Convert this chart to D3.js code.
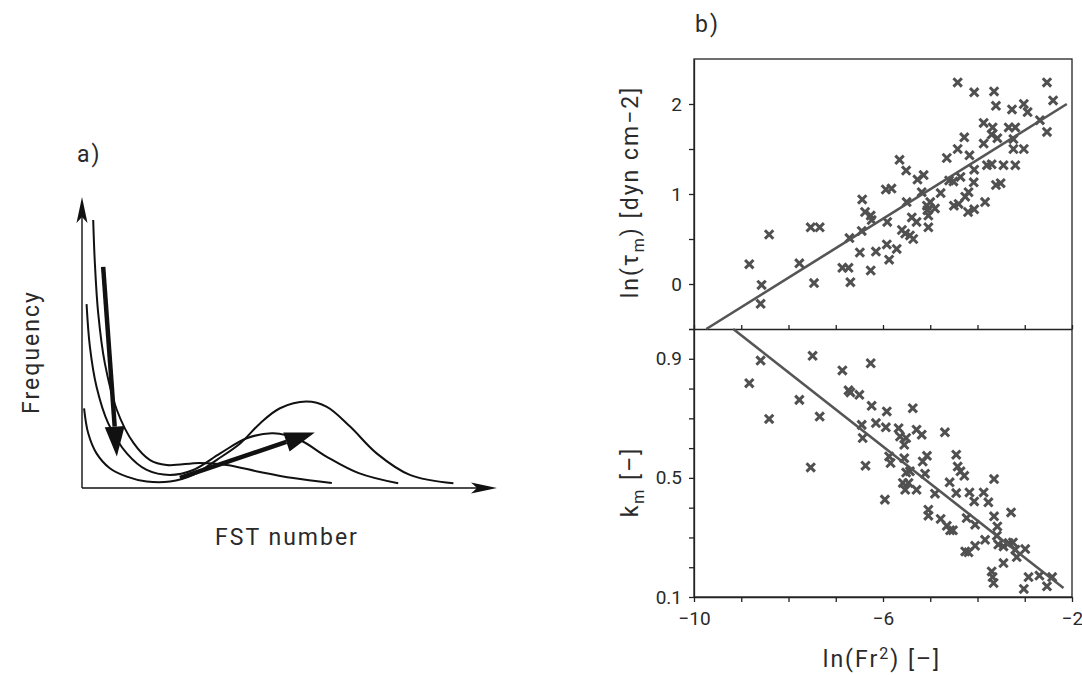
<!DOCTYPE html>
<meta charset="utf-8">
<head>
	<title>FST number and shear</title>
	<script src="https://cdnjs.cloudflare.com/ajax/libs/d3/7.8.5/d3.min.js"></script>
</head>
<style type="text/css">
	body { margin: 0; background: #fff; }
	text { font-family: Roboto, "DejaVu Sans", sans-serif; font-weight: 400; fill: #2a2a2a; }
	.lab { font-size: 23px; letter-spacing: 2px; }
	.tick text { font-size: 19px; }
	.axis path, .axis line { stroke: #222; stroke-width: 1.3; }
</style>
<body>
<script>
// ---- panel a: sketch curves (x, y in % of the axis lengths) ----
var curveA = [[2.7,92.1],[3.1,77.3],[3.9,60.1],[5.5,42.9],[8.4,26.8],[12.4,15.5],[16.4,9.6],[20.4,7.9],
	[28.4,8.6],[34.9,7.9],[42.9,5.5],[50.9,3.4],[60.2,1.7]];
var curveB = [[1.1,63.2],[1.9,48.6],[3.5,34.8],[6.3,22.3],[10.8,11.9],[15.6,6.2],[21.2,4.5],[26.8,6.2],
	[33.3,11.9],[39.7,17.1],[46.1,18.8],[52.5,16.5],[58.9,10.8],[66.7,5.1],[76.2,1.6]];
var curveC = [[0.5,27.4],[1.5,18.8],[3.5,11.9],[6.7,6.8],[10.8,3.9],[15.6,2.2],[21.2,2.2],[26.8,4.5],
	[32.4,9.6],[38.1,15.3],[42.9,22.2],[47.7,27.4],[54.1,29.7],[59.0,27.9],[64.6,21.1],[71.0,11.9],
	[79.0,4.5],[89.5,1.6]];
var arrowDown = [[5.1,76.0],[8.4,10.8]];
var arrowUp = [[23.6,3.5],[56.1,19.1]];

// ---- panel b: ln(tau_m) vs ln(Fr^2) ----
var tauX = [-8.83,-8.57,-8.59,-8.41,-7.77,-7.53,-7.34,-7.46,-6.71,-6.86,-6.73,-6.69,-6.44,-6.38,-6.26,-6.24,
	-6.45,-6.49,-6.26,-6.15,-5.94,-5.82,-5.91,-5.92,-5.87,-5.71,-5.65,-5.51,-5.50,-5.60,-5.53,-5.43,
	-5.36,-5.39,-5.29,-5.27,-5.14,-5.18,-5.07,-5.06,-5.00,-5.04,-5.04,-4.90,-4.78,-4.65,-4.60,-4.51,
	-4.42,-4.42,-4.36,-4.50,-4.40,-4.28,-4.26,-4.19,-4.17,-4.08,-4.07,-4.20,-4.07,-4.07,-3.87,-3.87,
	-3.84,-3.80,-3.70,-3.65,-3.61,-3.68,-3.70,-3.58,-3.61,-3.51,-3.45,-3.27,-3.34,-3.20,-3.24,-3.24,
	-3.20,-3.02,-2.94,-3.02,-2.68,-2.53,-2.40,-2.53];
var tauY = [0.22,-0.01,-0.22,0.55,0.23,0.63,0.63,0.01,0.51,0.18,0.18,0.02,0.94,0.80,0.76,0.71,
	0.59,0.35,0.15,0.36,1.05,1.06,0.69,0.44,0.27,0.39,1.38,1.26,0.91,0.60,0.56,0.54,
	0.50,0.74,0.69,1.16,1.21,1.02,0.87,0.82,0.91,0.76,0.63,0.84,1.01,1.40,1.15,1.14,
	2.24,1.50,1.19,0.87,0.89,1.63,0.97,1.02,1.43,1.13,1.27,0.80,0.83,2.13,1.79,1.56,
	0.91,1.32,1.33,2.14,1.98,1.74,1.66,1.62,1.10,1.12,1.32,1.94,1.74,1.74,1.61,1.50,
	1.32,2.00,1.91,1.50,1.82,2.24,2.04,1.69];
var tauFit = [[-9.74,-0.5],[-2.11,2.0]];

// ---- panel b: k_m vs ln(Fr^2) ----
var kX = [-8.83,-8.59,-8.41,-7.77,-7.49,-7.34,-7.53,-6.86,-6.73,-6.69,-6.50,-6.26,-6.24,-6.15,-6.45,-6.43,
	-6.37,-5.92,-5.94,-5.87,-5.84,-5.96,-5.67,-5.64,-5.55,-5.51,-5.55,-5.51,-5.43,-5.37,-5.29,-5.18,
	-5.58,-5.53,-5.46,-5.29,-5.16,-5.07,-5.11,-5.04,-5.04,-4.90,-4.78,-4.69,-4.65,-4.58,-4.59,-4.45,
	-4.42,-4.36,-4.28,-4.45,-4.52,-4.26,-4.19,-4.23,-4.17,-4.07,-4.05,-4.05,-3.87,-3.84,-3.77,-3.65,
	-3.65,-3.58,-3.59,-3.56,-3.70,-3.68,-3.66,-3.45,-3.45,-3.29,-3.25,-3.20,-3.17,-2.99,-3.02,-2.92,
	-2.69,-2.53,-2.42,-3.34];
var kY = [0.818,0.894,0.698,0.762,0.910,0.706,0.535,0.861,0.794,0.787,0.779,0.885,0.742,0.684,0.678,0.634,
	0.541,0.723,0.670,0.572,0.550,0.427,0.667,0.639,0.611,0.634,0.566,0.518,0.522,0.734,0.662,0.645,
	0.483,0.460,0.483,0.460,0.555,0.574,0.514,0.393,0.373,0.447,0.362,0.653,0.339,0.324,0.485,0.578,
	0.538,0.522,0.507,0.449,0.324,0.253,0.250,0.365,0.451,0.421,0.343,0.272,0.451,0.292,0.418,0.496,
	0.371,0.337,0.306,0.276,0.186,0.167,0.147,0.270,0.214,0.384,0.283,0.259,0.234,0.261,0.127,0.167,
	0.172,0.136,0.167,0.281];
var kFit = [[-9.17,1.0],[-2.18,0.13]];

var xTicks = [-10,-9,-8,-7,-6,-5,-4,-3,-2];
var xTickLabels = [-10,-6,-2];
var tauTicks = [-0.5,0,0.5,1,1.5,2];
var tauTickLabels = [0,1,2];
var kTicks = [0.1,0.2,0.3,0.4,0.5,0.6,0.7,0.8,0.9,1.0];
var kTickLabels = [0.1,0.5,0.9];

var svg = d3.select("body").append("svg")
	.attr("width", 1082)
	.attr("height", 675);

svg.append("rect").attr("width", 1082).attr("height", 675).attr("fill", "#fff");

// ================= panel a =================
var xA = d3.scaleLinear().domain([0, 100]).range([82, 497]);
var yA = d3.scaleLinear().domain([0, 100]).range([488, 197]);

function arrowHead(g, p0, p1, len, half, notch, fill) {
	// triangle head at p1 pointing away from p0 (pixel coords)
	var a = Math.atan2(p1[1] - p0[1], p1[0] - p0[0]);
	var c = Math.cos(a), s = Math.sin(a);
	var bx = p1[0] - len * c, by = p1[1] - len * s;
	var nx = p1[0] - (len - notch) * c, ny = p1[1] - (len - notch) * s;
	var pts = [p1, [bx - half * s, by + half * c], [nx, ny], [bx + half * s, by - half * c]];
	g.append("path")
		.attr("d", "M" + pts.join("L") + "Z")
		.attr("fill", fill);
	return [bx, by];
}

var panelA = svg.append("g");

// axes with arrows
var origin = [xA(0), yA(0)];
var yTip = [xA(0), yA(100)], xTip = [xA(100), yA(0)];
panelA.append("line")
	.attr("x1", origin[0]).attr("y1", origin[1])
	.attr("x2", yTip[0]).attr("y2", yTip[1] + 10)
	.attr("stroke", "#111").attr("stroke-width", 1.4);
panelA.append("line")
	.attr("x1", origin[0]).attr("y1", origin[1])
	.attr("x2", xTip[0] - 10).attr("y2", xTip[1])
	.attr("stroke", "#111").attr("stroke-width", 1.4);
arrowHead(panelA, origin, yTip, 26, 5.5, 6, "#111");
arrowHead(panelA, origin, xTip, 26, 5.5, 6, "#111");

var lineA = d3.line()
	.x(function(d) { return xA(d[0]); })
	.y(function(d) { return yA(d[1]); })
	.curve(d3.curveCatmullRom);

panelA.selectAll(".dist")
	.data([curveA, curveB, curveC])
 .enter().append("path")
	.attr("class", "dist")
	.attr("d", lineA)
	.attr("fill", "none")
	.attr("stroke", "#111")
	.attr("stroke-width", 2);

// thick arrows
[arrowDown, arrowUp].forEach(function(arr) {
	var p0 = [xA(arr[0][0]), yA(arr[0][1])];
	var p1 = [xA(arr[1][0]), yA(arr[1][1])];
	var base = arrowHead(panelA, p0, p1, 30, 10, 0, "#111");
	panelA.append("line")
		.attr("x1", p0[0]).attr("y1", p0[1])
		.attr("x2", base[0]).attr("y2", base[1])
		.attr("stroke", "#111").attr("stroke-width", 4.5);
});

panelA.append("text").attr("class", "lab").attr("x", 77).attr("y", 162).text("a)");
panelA.append("text").attr("class", "lab").attr("x", 287).attr("y", 545)
	.style("text-anchor", "middle")
	.text("FST number");
panelA.append("text").attr("class", "lab")
	.attr("transform", "translate(39,352) rotate(-90)")
	.style("text-anchor", "middle")
	.text("Frequency");

// ================= panel b =================
var xB = d3.scaleLinear().domain([-10, -2]).range([694, 1072]);
var yTau = d3.scaleLinear().domain([-0.5, 2.5]).range([329, 59]);
var yK = d3.scaleLinear().domain([0.1, 1.0]).range([597, 329]);

var panelB = svg.append("g");

// frame
panelB.append("rect")
	.attr("x", xB(-10)).attr("y", yTau(2.5))
	.attr("width", xB(-2) - xB(-10)).attr("height", yK(0.1) - yTau(2.5))
	.attr("fill", "none").attr("stroke", "#222").attr("stroke-width", 1.3);

function fmt(list) {
	return function(d) {
		return list.some(function(v) { return Math.abs(v - d) < 1e-9; }) ? d3.format("")(d) : "";
	};
}

panelB.append("g").attr("class", "axis")
	.attr("transform", "translate(0," + yK(0.1) + ")")
	.call(d3.axisBottom(xB).tickValues(xTicks).tickSize(5).tickPadding(10).tickSizeOuter(0)
		.tickFormat(fmt(xTickLabels)));

panelB.append("g").attr("class", "axis")
	.attr("transform", "translate(0," + yTau(-0.5) + ")")
	.call(d3.axisTop(xB).tickValues(xTicks).tickSize(4).tickSizeOuter(0).tickFormat(""));

panelB.append("g").attr("class", "axis")
	.attr("transform", "translate(" + xB(-10) + ",0)")
	.call(d3.axisLeft(yTau).tickValues(tauTicks).tickSize(5).tickPadding(7).tickSizeOuter(0)
		.tickFormat(fmt(tauTickLabels)));

panelB.append("g").attr("class", "axis")
	.attr("transform", "translate(" + xB(-10) + ",0)")
	.call(d3.axisLeft(yK).tickValues(kTicks).tickSize(5).tickPadding(7).tickSizeOuter(0)
		.tickFormat(fmt(kTickLabels)));

function cross(d) {
	var r = 4.2;
	return "M" + (-r) + "," + (-r) + "L" + r + "," + r + "M" + (-r) + "," + r + "L" + r + "," + (-r);
}

var tauData = tauX.map(function(x, i) { return [x, tauY[i]]; });
var kData = kX.map(function(x, i) { return [x, kY[i]]; });

panelB.selectAll(".tau")
	.data(tauData)
 .enter().append("path")
	.attr("class", "tau")
	.attr("transform", function(d) { return "translate(" + xB(d[0]) + "," + yTau(d[1]) + ")"; })
	.attr("d", cross)
	.attr("stroke", "#505050").attr("stroke-width", 3).attr("fill", "none");

panelB.selectAll(".km")
	.data(kData)
 .enter().append("path")
	.attr("class", "km")
	.attr("transform", function(d) { return "translate(" + xB(d[0]) + "," + yK(d[1]) + ")"; })
	.attr("d", cross)
	.attr("stroke", "#505050").attr("stroke-width", 3).attr("fill", "none");

panelB.append("path")
	.datum(tauFit)
	.attr("d", d3.line().x(function(d) { return xB(d[0]); }).y(function(d) { return yTau(d[1]); }))
	.attr("stroke", "#555").attr("stroke-width", 2.6).attr("fill", "none");

panelB.append("path")
	.datum(kFit)
	.attr("d", d3.line().x(function(d) { return xB(d[0]); }).y(function(d) { return yK(d[1]); }))
	.attr("stroke", "#555").attr("stroke-width", 2.6).attr("fill", "none");

// labels
panelB.append("text").attr("class", "lab").attr("x", 695).attr("y", 32).text("b)");

var tauLab = panelB.append("text").attr("class", "lab")
	.attr("transform", "translate(638,192) rotate(-90)")
	.style("text-anchor", "middle");
tauLab.append("tspan").text("ln(\u03c4");
tauLab.append("tspan").attr("dy", 6).style("font-size", "16px").text("m");
tauLab.append("tspan").attr("dy", -6).text(") [dyn cm\u22122]");

var kLab = panelB.append("text").attr("class", "lab")
	.attr("transform", "translate(638,482) rotate(-90)")
	.style("text-anchor", "middle");
kLab.append("tspan").text("k");
kLab.append("tspan").attr("dy", 6).style("font-size", "16px").text("m");
kLab.append("tspan").attr("dy", -6).text(" [\u2013]");

var xLab = panelB.append("text").attr("class", "lab")
	.attr("x", 882).attr("y", 667)
	.style("text-anchor", "middle");
xLab.append("tspan").text("ln(Fr");
xLab.append("tspan").attr("dy", -8).style("font-size", "16px").text("2");
xLab.append("tspan").attr("dy", 8).text(")  [\u2013]");
</script>
</body>
